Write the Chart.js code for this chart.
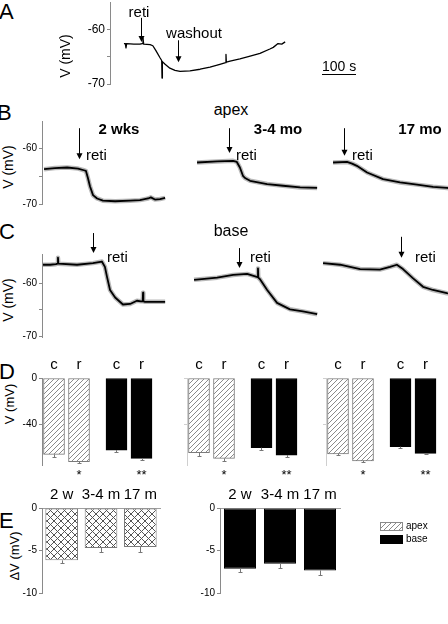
<!DOCTYPE html>
<html><head><meta charset="utf-8">
<script src="https://cdn.jsdelivr.net/npm/chart.js@4.4.1/dist/chart.umd.min.js"></script>
<style>
html,body{margin:0;padding:0;background:#fff;}
#fig{position:relative;width:448px;height:624px;overflow:hidden;font-family:"Liberation Sans",Arial,sans-serif;color:#000;background:#fff;}
#fig canvas{position:absolute;}
.t{position:absolute;white-space:nowrap;line-height:1;}
</style></head>
<body><div id="fig"></div>
<script>
// ---------- DATA ----------
// Panel A: membrane potential trace (time in s, V in mV)
const traceA_t = [41,45,47,49,70,88,95,97,99,118,126,135,147,152,153,154,162,176,191,206,235,265,294,323,340,341,342,353,382,412,441,470,480,494,505,515];
const traceA_v = [-62.6,-62.6,-63.4,-62.6,-62.7,-62.7,-62.6,-61.6,-62.7,-62.8,-63.0,-63.9,-65.2,-65.7,-68.9,-65.9,-66.4,-67.1,-67.5,-67.7,-67.6,-67.3,-66.9,-66.4,-66.1,-64.6,-66.0,-65.8,-65.4,-64.9,-64.4,-63.6,-63.3,-62.6,-62.7,-62.3];
// Panel B (apex): 2 wks, 3-4 mo, 17 mo
const traceB1_t = [6,38,74,106,123,129,135,141,150,162,179,215,259,288,312,320,332,347,362];
const traceB1_v = [-63.7,-63.5,-63.4,-63.6,-63.9,-64.0,-65.3,-66.8,-68.4,-69.0,-69.4,-69.5,-69.4,-69.3,-69.0,-68.8,-69.2,-69.1,-68.9];
const traceB2_t = [6,65,112,123,132,141,147,162,212,259,309,359];
const traceB2_v = [-62.5,-62.3,-62.2,-62.4,-63.4,-64.9,-65.3,-65.8,-66.4,-66.7,-67.0,-67.1];
const traceB3_t = [6,47,62,76,106,153,203,253,300,341,356];
const traceB3_v = [-62.5,-62.4,-62.7,-63.1,-64.3,-65.5,-66.1,-66.5,-66.9,-67.1,-67.2];
// Panel C (base)
const traceC1_t = [3,24,41,46,47,48,103,150,176,185,191,200,215,238,259,279,291,296,297,298,303,332,362];
const traceC1_v = [-56.6,-56.6,-56.5,-56.4,-55.3,-56.4,-56.6,-56.3,-56.0,-57.0,-58.8,-61.3,-62.7,-64.0,-63.9,-63.3,-63.4,-63.4,-61.8,-63.4,-63.5,-63.5,-63.5];
const traceC2_t = [6,74,121,162,188,193,194,195,200,221,250,288,326,368];
const traceC2_v = [-59.4,-59.0,-58.5,-58.3,-58.8,-58.9,-57.3,-59.0,-59.3,-61.3,-63.7,-64.9,-65.3,-65.8];
const traceC3_t = [6,56,115,173,203,223,241,270,300,329,370,385];
const traceC3_v = [-56.3,-56.6,-57.4,-57.5,-57.0,-56.6,-57.4,-59.1,-60.7,-61.3,-61.9,-62.0];
// drug application / washout markers (time, from V, to V)
const arrowsA = [{t:91, from:-57.9, to:-62.3}, {t:200, from:-62.0, to:-66.0}];
const arrowsB = [[{t:109, from:-56.3, to:-61.9}], [{t:100, from:-56.3, to:-60.8}], [{t:38, from:-56.3, to:-61.3}]];
const arrowsC = [[{t:150, from:-50.7, to:-54.4}], [{t:138, from:-53.5, to:-57.2}], [{t:235, from:-51.4, to:-55.3}]];
const traceTicks = [-70, -65, -60];
const traceTickLabels = [-70, -60];
const ageTitles = ['2 wks', '3-4 mo', '17 mo'];
// Panel D: resting potential (mV), control (c) vs reti (r)
const dConditions = ['c', 'r'];
const dApexCtrl = [-65.4, -64.0, -65.1];
const dApexReti = [-71.7, -68.8, -70.9];
const dBaseCtrl = [-61.7, -59.7, -58.8];
const dBaseReti = [-68.8, -66.0, -64.6];
const dApexCtrlErr = [2.2, 2.6, 0.8];
const dApexRetiErr = [1.4, 2.2, 0.9];
const dBaseCtrlErr = [1.8, 1.6, 0.8];
const dBaseRetiErr = [1.2, 1.6, 0.9];
const dSigApex = ['*', '*', '*'];
const dSigBase = ['**', '**', '**'];
const dTicks = [-40, 0];
// Panel E: reti-induced change (mV)
const eAges = ['2 w', '3-4 m', '17 m'];
const eApex = [-6.16, -4.71, -4.59];
const eApexErr = [0.3, 0.5, 0.6];
const eBase = [-7.14, -6.55, -7.34];
const eBaseErr = [0.4, 0.5, 0.6];
const eTicks = [-10, -5, 0];

// ---------- RENDERING ----------
Chart.defaults.font.family = '"Liberation Sans", Arial, sans-serif';
Chart.defaults.color = '#000';
const fig = document.getElementById('fig');
const SEC_PER_PX = 2.94;

function text(str, x, y, o = {}) {
  const d = document.createElement('div');
  d.className = 't';
  d.textContent = str;
  d.style.left = x + 'px'; d.style.top = y + 'px';
  d.style.fontSize = (o.size || 15) + 'px';
  if (o.bold) d.style.fontWeight = 'bold';
  let tr = o.left ? 'translate(0,-50%)' : 'translate(-50%,-50%)';
  if (o.rot) tr += ' rotate(-90deg)';
  d.style.transform = tr;
  fig.appendChild(d);
  return d;
}

function makeCanvas(area, m) {
  const c = document.createElement('canvas');
  const w = area[2] - area[0] + m[0] + m[2], h = area[3] - area[1] + m[1] + m[3];
  c.width = w; c.height = h;
  c.style.left = (area[0] - m[0]) + 'px'; c.style.top = (area[1] - m[1]) + 'px';
  c.style.width = w + 'px'; c.style.height = h + 'px';
  fig.appendChild(c);
  return c;
}

function tile(size, both, color) {
  const c = document.createElement('canvas');
  c.width = c.height = size;
  const g = c.getContext('2d');
  g.fillStyle = '#fff'; g.fillRect(0, 0, size, size);
  g.strokeStyle = color; g.lineWidth = 1;
  g.beginPath();
  g.moveTo(0, size); g.lineTo(size, 0);
  g.moveTo(-1, 1); g.lineTo(1, -1);
  g.moveTo(size - 1, size + 1); g.lineTo(size + 1, size - 1);
  if (both) {
    g.moveTo(0, 0); g.lineTo(size, size);
    g.moveTo(-1, size - 1); g.lineTo(1, size + 1);
    g.moveTo(size - 1, -1); g.lineTo(size + 1, 1);
  }
  g.stroke();
  return c;
}
const hatchTile = tile(5, false, '#8a8a8a');
const crossTile = tile(7, true, '#555');
const ctxTmp = document.createElement('canvas').getContext('2d');
const hatchPattern = ctxTmp.createPattern(hatchTile, 'repeat');
const crossPattern = ctxTmp.createPattern(crossTile, 'repeat');

function yAxis(min, max, ticks, labeled, width, font, color) {
  return {
    type: 'linear', min, max, display: true,
    afterBuildTicks: s => { s.ticks = ticks.map(v => ({ value: v })); },
    afterFit: s => { s.width = width; },
    ticks: { callback: v => labeled.includes(v) ? String(v) : '', font: { size: font }, padding: 2, autoSkip: false, color: '#000' },
    grid: { display: true, drawOnChartArea: false, drawTicks: true, tickLength: 3, color: color },
    border: { display: true, color: color, width: 1 }
  };
}

function arrowPlugin(list) {
  return {
    id: 'arrows',
    afterDraw(chart) {
      const { ctx, scales: { x, y } } = chart;
      ctx.save();
      ctx.strokeStyle = '#000'; ctx.fillStyle = '#000'; ctx.lineWidth = 1;
      list.forEach(a => {
        const px = Math.round(x.getPixelForValue(a.t)) + 0.5;
        const y1 = y.getPixelForValue(a.from), y2 = y.getPixelForValue(a.to);
        ctx.beginPath(); ctx.moveTo(px, y1); ctx.lineTo(px, y2 - 5); ctx.stroke();
        ctx.beginPath(); ctx.moveTo(px - 3, y2 - 6); ctx.lineTo(px + 3, y2 - 6); ctx.lineTo(px, y2); ctx.closePath(); ctx.fill();
      });
      ctx.restore();
    }
  };
}

const errPlugin = {
  id: 'errbars',
  afterDatasetsDraw(chart) {
    const { ctx } = chart, y = chart.scales.y;
    ctx.save(); ctx.strokeStyle = '#777'; ctx.lineWidth = 1;
    chart.data.datasets.forEach((ds, i) => {
      if (!ds.errors) return;
      chart.getDatasetMeta(i).data.forEach((el, j) => {
        const d = ds.data[j];
        const v = (typeof d === 'number') ? d : d.y;
        const y1 = y.getPixelForValue(v), y2 = Math.round(y.getPixelForValue(v - ds.errors[j])) + 0.5;
        const xx = Math.round(el.x) + 0.5;
        ctx.beginPath(); ctx.moveTo(xx, y1); ctx.lineTo(xx, y2);
        ctx.moveTo(xx - 2, y2); ctx.lineTo(xx + 2, y2); ctx.stroke();
      });
    });
    ctx.restore();
  }
};

function traceChart(area, m, t, v, yr, showY, arrows, halo, core, yFont) {
  const cv = makeCanvas(area, m);
  const pts = t.map((x, i) => ({ x, y: v[i] }));
  const datasets = [];
  if (halo) datasets.push({ data: pts, borderColor: 'rgba(0,0,0,0.28)', borderWidth: halo, pointRadius: 0, tension: 0, borderJoinStyle: 'round' });
  datasets.push({ data: pts, borderColor: '#000', borderWidth: core, pointRadius: 0, tension: 0, borderJoinStyle: 'round' });
  const xmax = (area[2] - area[0]) * SEC_PER_PX;
  return new Chart(cv, {
    type: 'line',
    data: { datasets },
    options: {
      responsive: false, animation: false, devicePixelRatio: 1,
      layout: { padding: { left: showY ? 0 : m[0], top: m[1], right: m[2], bottom: m[3] } },
      plugins: { legend: { display: false }, tooltip: { enabled: false } },
      scales: {
        x: { type: 'linear', display: false, min: 0, max: xmax },
        y: showY ? yAxis(yr[0], yr[1], traceTicks, traceTickLabels, m[0], yFont, '#8a8a8a')
                 : { type: 'linear', display: false, min: yr[0], max: yr[1] }
      }
    },
    plugins: [arrowPlugin(arrows)]
  });
}

// ----- Panel A -----
text('A', -1, 12, { size: 22, left: true });
const chartA = traceChart([110, 2, 300, 84], [45, 10, 10, 10], traceA_t, traceA_v, [-70, -55], true, arrowsA, 0, 1.3, 12);
text('reti', 139, 11);
text('washout', 194, 32);
text('V (mV)', 65, 56, { size: 14, rot: true });
{
  const xs = chartA.scales.x;
  const w = Math.round(xs.getPixelForValue(100) - xs.getPixelForValue(0));
  const d = text('100 s', 322, 67, { size: 14, left: true });
  d.style.width = w + 'px'; d.style.textAlign = 'center';
  d.style.borderBottom = '1px solid #000'; d.style.paddingBottom = '1px';
}

// ----- Panel B -----
text('B', -3, 113, { size: 22, left: true });
text('apex', 231, 110, { size: 16 });
text('V (mV)', 8, 167, { size: 14, rot: true });
const bAreas = [[42, 121, 166, 204], [195, 121, 319, 204], [331, 121, 455, 204]];
const bTraces = [[traceB1_t, traceB1_v], [traceB2_t, traceB2_v], [traceB3_t, traceB3_v]];
const bTitleX = [119, 278, 420];
const bRetiX = [86, 236, 352];
bAreas.forEach((a, k) => {
  traceChart(a, k === 0 ? [30, 10, 2, 10] : [4, 10, 2, 10], bTraces[k][0], bTraces[k][1], [-70, -55], k === 0, arrowsB[k], 4.5, 1.8, 10);
  text(ageTitles[k], bTitleX[k], 128, { size: 15, bold: true });
  text('reti', bRetiX[k], 154, { left: true });
});

// ----- Panel C -----
text('C', -1, 232, { size: 22, left: true });
text('base', 231, 231, { size: 16 });
text('V (mV)', 8, 300, { size: 14, rot: true });
const cAreas = [[42, 254, 166, 337], [192, 254, 318, 337], [321, 254, 452, 337]];
const cTraces = [[traceC1_t, traceC1_v], [traceC2_t, traceC2_v], [traceC3_t, traceC3_v]];
const cRetiX = [107, 250, 415];
cAreas.forEach((a, k) => {
  traceChart(a, k === 0 ? [30, 25, 2, 10] : [4, 25, 2, 10], cTraces[k][0], cTraces[k][1], [-70.05, -54.6], k === 0, arrowsC[k], 4.5, 1.8, 10);
  text('reti', cRetiX[k], 256, { left: true });
});

// ----- Panel D -----
text('D', -1, 372, { size: 22, left: true });
text('V (mV)', 9, 404, { size: 13, rot: true });
const dAreas = [[42, 378, 156, 465], [187, 378, 301, 465], [326, 378, 440, 465]];
const slot = (g, j) => g * 2.5 + j; // bar slot layout: two regions, two conditions each
dAreas.forEach((a, k) => {
  const m = [30, 22, 4, 14];
  const cv = makeCanvas(a, m);
  const xmin = -0.48, xmax = xmin + (a[2] - a[0]) / 25;
  const slots = [0, 1].flatMap(g => dConditions.map((c, j) => slot(g, j)));
  const axisColor = k === 0 ? '#8a8a8a' : '#cfcfcf';
  const ch = new Chart(cv, {
    type: 'bar',
    data: {
      datasets: [
        { label: 'apex', data: [dApexCtrl[k], dApexReti[k]].map((v, j) => ({ x: slot(0, j), y: v })), errors: [dApexCtrlErr[k], dApexRetiErr[k]],
          backgroundColor: hatchPattern, borderColor: '#7a7a7a', borderWidth: 1, borderSkipped: false, barThickness: 21, grouped: false },
        { label: 'base', data: [dBaseCtrl[k], dBaseReti[k]].map((v, j) => ({ x: slot(1, j), y: v })), errors: [dBaseCtrlErr[k], dBaseRetiErr[k]],
          backgroundColor: '#000', borderColor: '#000', borderWidth: 1, borderSkipped: false, barThickness: 21, grouped: false }
      ]
    },
    options: {
      responsive: false, animation: false, devicePixelRatio: 1,
      layout: { padding: { left: 0, top: 0, right: m[2], bottom: m[3] } },
      plugins: { legend: { display: false }, tooltip: { enabled: false } },
      scales: {
        x: { type: 'linear', position: 'top', min: xmin, max: xmax, offset: false,
             afterBuildTicks: s => { s.ticks = slots.map(v => ({ value: v })); },
             afterFit: s => { s.height = m[1]; },
             ticks: { callback: (v, i) => dConditions[i % 2], font: { size: 15 }, padding: 4, maxRotation: 0, autoSkip: false },
             grid: { display: false, drawTicks: false }, border: { display: false } },
        y: yAxis(-74.5, 0, dTicks, k === 0 ? dTicks : [], m[0], 10, axisColor)
      }
    },
    plugins: [errPlugin]
  });
  const left = a[0] - m[0];
  text(dSigApex[k], left + ch.scales.x.getPixelForValue(slot(0, 1)), 474, { size: 13 });
  text(dSigBase[k], left + ch.scales.x.getPixelForValue(slot(1, 1)), 474, { size: 13 });
});

// ----- Panel E -----
text('E', -1, 521, { size: 22, left: true });
text('\u0394V (mV)', 14, 556, { size: 13, rot: true });
function eChart(area, vals, errs, bg, border, bp) {
  const m = [30, 22, 4, 10];
  const cv = makeCanvas(area, m);
  return new Chart(cv, {
    type: 'bar',
    data: { labels: eAges, datasets: [{ data: vals, errors: errs, backgroundColor: bg, borderColor: border, borderWidth: 1, borderSkipped: false, barPercentage: bp, categoryPercentage: 1 }] },
    options: {
      responsive: false, animation: false, devicePixelRatio: 1,
      layout: { padding: { left: 0, top: 0, right: m[2], bottom: m[3] } },
      plugins: { legend: { display: false }, tooltip: { enabled: false } },
      scales: {
        x: { type: 'category', position: 'top', offset: true,
             afterFit: s => { s.height = m[1]; },
             ticks: { font: { size: 15 }, padding: 4, maxRotation: 0, autoSkip: false },
             grid: { display: false, drawTicks: false }, border: { display: true, color: '#a0a0a0' } },
        y: yAxis(-10, 0, eTicks, eTicks, m[0], 10, '#8a8a8a')
      }
    },
    plugins: [errPlugin]
  });
}
eChart([42, 508, 160, 593], eApex, eApexErr, crossPattern, '#7a7a7a', 0.83);
eChart([220, 508, 340, 593], eBase, eBaseErr, '#000', '#000', 0.8);

// legend
function legendBox(top, bgCss, border) {
  const d = document.createElement('div');
  d.style.position = 'absolute'; d.style.left = '380px'; d.style.top = top + 'px';
  d.style.width = '21px'; d.style.height = '7px';
  d.style.border = '1px solid ' + border;
  d.style.background = bgCss;
  fig.appendChild(d);
}
legendBox(522, 'url(' + hatchTile.toDataURL() + ')', '#8a8a8a');
legendBox(535, '#000', '#000');
text('apex', 406, 526, { size: 10, left: true });
text('base', 406, 539, { size: 10, left: true });
</script>
</body></html>
